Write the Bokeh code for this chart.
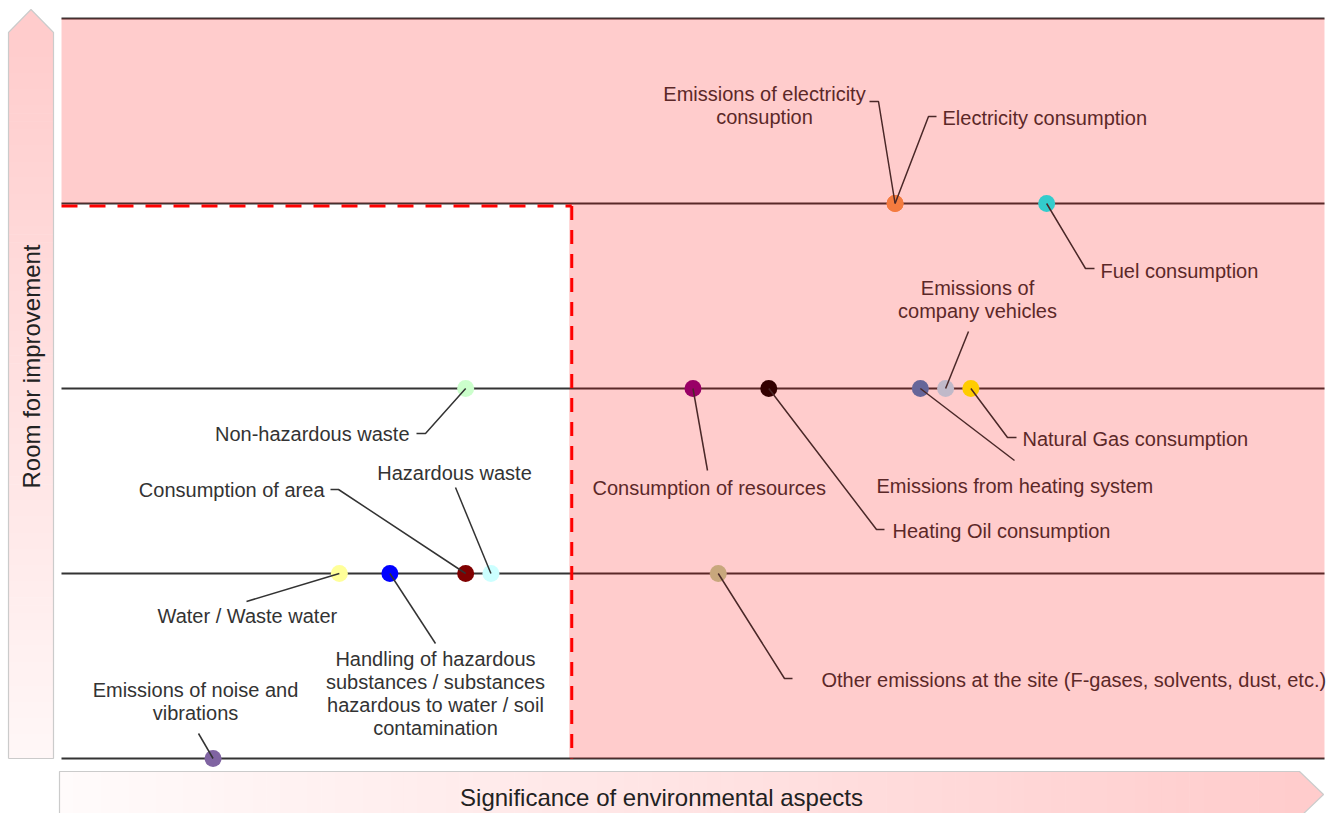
import numpy as np
from bokeh.plotting import figure
from bokeh.models import Range1d, ColumnDataSource
from bokeh.core.properties import value
from bokeh.embed import file_html
from bokeh.resources import INLINE

# ---------------- data ----------------
aspects = [
    "Emissions of noise and\nvibrations",
    "Water / Waste water",
    "Handling of hazardous\nsubstances / substances\nhazardous to water / soil\ncontamination",
    "Consumption of area",
    "Hazardous waste",
    "Non-hazardous waste",
    "Consumption of resources",
    "Other emissions at the site (F-gases, solvents, dust, etc.)",
    "Heating Oil consumption",
    "Emissions from heating system",
    "Emissions of\ncompany vehicles",
    "Natural Gas consumption",
    "Emissions of electricity\nconsuption",
    "Electricity consumption",
    "Fuel consumption",
]
significance = [6, 11, 13, 16, 17, 16, 25, 26, 28, 34, 35, 36, 33, 33, 39]
room = [0, 1, 1, 1, 1, 2, 2, 1, 2, 2, 2, 2, 3, 3, 3]
dot_colors = ["#8064A2", "#FFFF99", "#0000FF", "#800000", "#CCFFFF", "#CCFFCC",
              "#990066", "#C8A77C", "#330000", "#666699", "#C0B9C9", "#FFCC00",
              "#F47B3F", "#F47B3F", "#33CCCC"]
levels = [0, 1, 2, 3, 4]
threshold_sig = 20.2
threshold_room = 3
x_title = "Significance of environmental aspects"
y_title = "Room for improvement"

# ---------------- layout helpers (page pixels -> data) ----------------
W, H = 1335, 813
ORIGIN = 0  # canvas top-left in page pixels
X0PX, XSCALE = 61.0, 25.26
Y0PX, YSCALE = 758.0, 185.0


def dx(px):
    return (px - X0PX) / XSCALE


def dy(py):
    return (Y0PX - py) / YSCALE


# label placement: (x px, y px, align, leader points after the dot in px)
label_layout = [
    (195, 701, "center", [(198, 733)]),
    (157, 615, "left", [(246, 601)]),
    (435, 693, "center", [(435, 643)]),
    (324, 489, "right", [(338, 489), (330, 489)]),
    (454, 472, "center", [(455, 487)]),
    (409, 433, "right", [(425, 433), (416, 433)]),
    (592, 487, "left", [(707, 470)]),
    (821, 679, "left", [(784, 678), (792, 678)]),
    (892, 530, "left", [(876, 529), (884, 529)]),
    (876, 485, "left", [(1014, 460)]),
    (977, 299, "center", [(968, 331)]),
    (1022, 438, "left", [(1007, 437), (1016, 437)]),
    (764, 105, "center", [(878, 101), (869, 101)]),
    (942, 117, "left", [(928, 116), (936, 116)]),
    (1100, 270, "left", [(1085, 268), (1094, 268)]),
]

FONT = value("Liberation Sans")

p = figure(width=W, height=H,
           x_range=Range1d(dx(ORIGIN), dx(ORIGIN + W)),
           y_range=Range1d(dy(ORIGIN + H), dy(ORIGIN)),
           x_axis_type=None, y_axis_type=None,
           output_backend="svg", toolbar_location=None,
           min_border=0, min_border_left=0, min_border_right=0,
           min_border_top=0, min_border_bottom=0)
p.grid.visible = False
p.outline_line_color = None
p.background_fill_color = "white"
p.border_fill_color = "white"


def mix(c1, c2, t):
    a = np.array([int(c1[i:i + 2], 16) for i in (1, 3, 5)])
    b = np.array([int(c2[i:i + 2], 16) for i in (1, 3, 5)])
    c = (a + (b - a) * t).round().astype(int)
    return "#%02x%02x%02x" % tuple(c)


# ---- left arrow (vertical, gradient pink top -> white bottom)
N = 90
top_px, bot_px = 32, 758
edges = np.linspace(top_px, bot_px, N + 1)
cols = [mix("#FFCCCC", "#FFF7F7", (i + 0.5) / N) for i in range(N)]
p.quad(left=dx(8), right=dx(53), top=[dy(e) for e in edges[:-1]],
       bottom=[dy(e + 0.6) for e in edges[1:]], fill_color=cols, line_color=None)
p.patch([dx(8), dx(30.5), dx(53)], [dy(32.5), dy(9), dy(32.5)],
        fill_color="#FFCCCC", line_color=None)
p.line([dx(8), dx(8), dx(30.5), dx(53), dx(53), dx(8)],
       [dy(758), dy(32), dy(9), dy(32), dy(758), dy(758)],
       line_color="#CBCBCB", line_width=1.2)

# ---- bottom arrow (horizontal, gradient white left -> pink right)
l_px, r_px = 59, 1299
edges = np.linspace(l_px, r_px, N + 1)
cols = [mix("#FFFBFB", "#FFCCCC", (i + 0.5) / N) for i in range(N)]
p.quad(left=[dx(e) for e in edges[:-1]], right=[dx(e + 0.6) for e in edges[1:]],
       top=dy(771), bottom=dy(817), fill_color=cols, line_color=None)
p.patch([dx(1298.5), dx(1323), dx(1298.5)], [dy(771), dy(794), dy(817)],
        fill_color="#FFCCCC", line_color=None)
p.line([dx(59), dx(1299), dx(1323), dx(1299), dx(59), dx(59)],
       [dy(817), dy(817), dy(794), dy(771), dy(771), dy(817)],
       line_color="#CBCBCB", line_width=1.2)

# axis titles
p.text(x=[dx(31)], y=[dy(366)], text=[y_title], angle=np.pi / 2,
       text_align="center", text_baseline="middle", text_font=FONT,
       text_font_size="24px", text_color="#222222")
p.text(x=[dx(661)], y=[dy(797)], text=[x_title],
       text_align="center", text_baseline="middle", text_font=FONT,
       text_font_size="24px", text_color="#222222")

# ---- horizontal level lines
for lv in levels:
    p.line([0, 50], [lv, lv], line_color="#333333", line_width=1.8)

# ---- labels
for align in ("left", "center", "right"):
    idx = [i for i, l in enumerate(label_layout) if l[2] == align]
    src = ColumnDataSource(dict(
        x=[dx(label_layout[i][0]) for i in idx],
        y=[dy(label_layout[i][1]) for i in idx],
        t=[aspects[i] for i in idx]))
    p.text(x="x", y="y", text="t", source=src, text_align=align,
           text_baseline="middle", text_font=FONT, text_font_size="20px",
           text_color="#333333", text_line_height=1.05)

# ---- leader line geometry
xs, ys = [], []
for i, (lx, ly, al, pts) in enumerate(label_layout):
    xs.append([significance[i]] + [dx(a) for a, b in pts])
    ys.append([room[i]] + [dy(b) for a, b in pts])

# ---- pink overlay (critical zone)
p.quad(left=[0, threshold_sig - 2.5 / XSCALE], right=[50, 50],
       bottom=[threshold_room, 0], top=[4, threshold_room],
       fill_color="#FF0000", fill_alpha=0.2, line_color=None)

# ---- red dashed threshold lines
off = 2.5 / YSCALE
p.line([0, threshold_sig], [threshold_room - off, threshold_room - off],
       line_color="#FF0000", line_width=3, line_dash="16 12")
p.line([threshold_sig, threshold_sig], [threshold_room - off, 0],
       line_color="#FF0000", line_width=3, line_dash="14 10")

# ---- dots
p.scatter(x=significance, y=room, size=17, fill_color=dot_colors, line_color=None)

# leader lines on top, colored to match the zone
lcols = []
for i in range(len(aspects)):
    in_pink = room[i] >= threshold_room or significance[i] > threshold_sig
    lcols.append("#4A2828" if in_pink else "#333333")
p.multi_line(xs, ys, line_color=lcols, line_width=1.5)

open("out.html", "w").write(file_html(p, INLINE))
